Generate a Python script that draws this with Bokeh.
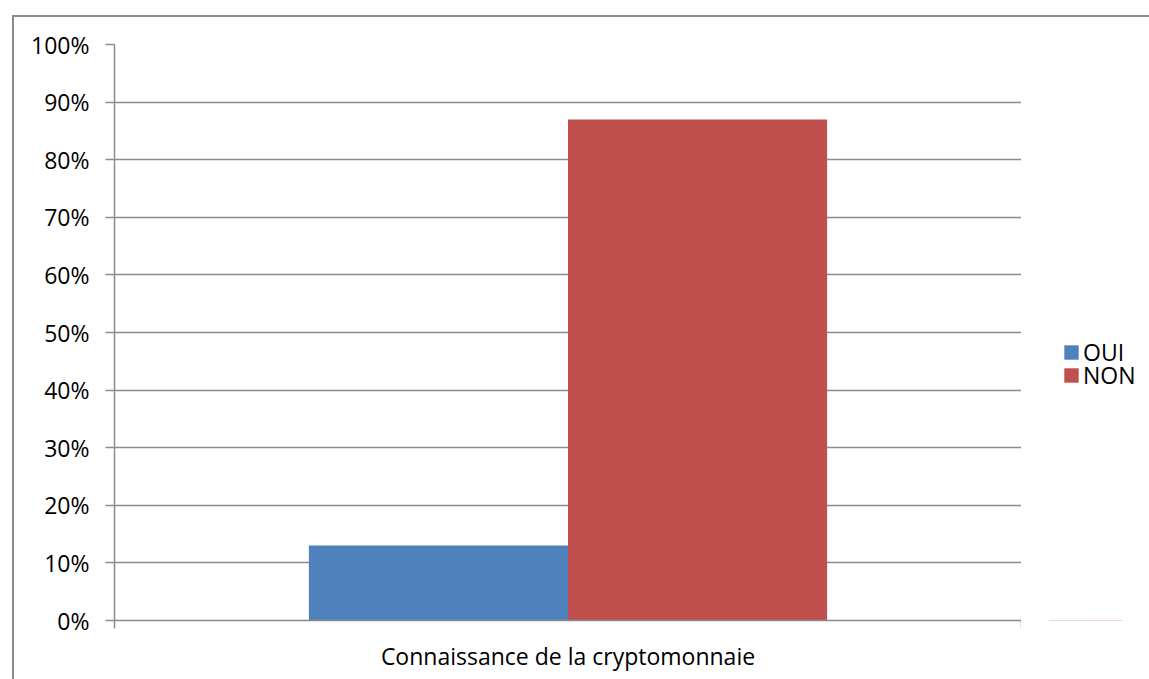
from bokeh.plotting import figure
from bokeh.layouts import row
from bokeh.models import (ColumnDataSource, FactorRange, Range1d, LinearAxis, CategoricalAxis,
                          FixedTicker, NumeralTickFormatter, Legend, LegendItem, InlineStyleSheet)
from bokeh.transform import dodge
from bokeh.embed import file_html
from bokeh.resources import INLINE

categories = ["Connaissance de la cryptomonnaie"]
oui = [0.13]
non = [0.87]
series_names = ["OUI", "NON"]
colors = ["#4F81BD", "#C0504D"]
y_ticks = [0.0, 0.1, 0.2, 0.3, 0.4, 0.5, 0.6, 0.7, 0.8, 0.9, 1.0]

FONT = "Open Sans"
FS = "23px"
GRID = "#8c8c8c"
BW = 0.2857

source = ColumnDataSource(data=dict(cat=categories, oui=oui, non=non))

# ---------------- main chart ----------------
p = figure(width=1021, height=679, output_backend="svg", toolbar_location=None, title=None,
           x_range=FactorRange(factors=categories, range_padding=0),
           y_range=Range1d(0, 1),
           x_axis_location=None, y_axis_location=None,
           min_border_left=114, min_border_right=0, min_border_top=44, min_border_bottom=59)
p.outline_line_color = None
p.background_fill_alpha = 0
p.border_fill_alpha = 0

p.vbar(x=dodge("cat", -BW / 2, range=p.x_range), top="oui", width=BW, source=source,
       fill_color=colors[0], line_color=None)
p.vbar(x=dodge("cat", BW / 2, range=p.x_range), top="non", width=BW, source=source,
       fill_color=colors[1], line_color=None)

yaxis = LinearAxis(ticker=FixedTicker(ticks=y_ticks), formatter=NumeralTickFormatter(format="0%"))
yaxis.axis_line_color = GRID
yaxis.axis_line_width = 1.5
yaxis.major_tick_line_color = GRID
yaxis.major_tick_line_width = 1.5
yaxis.major_tick_out = 9
yaxis.major_tick_in = 0
yaxis.minor_tick_line_color = None
yaxis.major_label_standoff = 16
yaxis.major_label_text_font = FONT
yaxis.major_label_text_font_size = FS
yaxis.major_label_text_color = "black"
p.add_layout(yaxis, "left")

# tick marks at the category boundaries (synthetic coordinates 0 and 1)
edge = LinearAxis(ticker=FixedTicker(ticks=[0, 1]))
edge.axis_line_color = GRID
edge.axis_line_width = 1.5
edge.major_tick_line_color = GRID
edge.major_tick_line_width = 1.5
edge.major_tick_out = 8
edge.major_tick_in = 0
edge.minor_tick_line_color = None
edge.major_label_overrides = {0: "", 1: ""}
edge.major_label_text_font_size = "0px"
edge.major_label_standoff = 0
p.add_layout(edge, "below")

xaxis = CategoricalAxis()
xaxis.axis_line_color = None
xaxis.major_tick_line_color = None
xaxis.minor_tick_line_color = None
xaxis.major_label_standoff = 5
xaxis.major_label_text_font = FONT
xaxis.major_label_text_font_size = FS
xaxis.major_label_text_color = "black"
p.add_layout(xaxis, "below")

p.ygrid.ticker = FixedTicker(ticks=y_ticks)
p.xgrid.grid_line_color = None
p.ygrid.grid_line_color = GRID
p.ygrid.grid_line_width = 1.5

# ---------------- legend panel ----------------
pl = figure(width=128, height=679, output_backend="svg", toolbar_location=None, title=None,
            x_range=FactorRange(factors=categories, range_padding=0),
            y_range=Range1d(5, 6),
            x_axis_location=None, y_axis_location=None, min_border=0)
pl.outline_line_color = None
pl.background_fill_alpha = 0
pl.border_fill_alpha = 0
pl.grid.grid_line_color = None

# zero-height, out-of-range proxies: only their legend swatches show
lr1 = pl.vbar(x=dodge("cat", -BW / 2, range=pl.x_range), top="oui", bottom="oui", width=BW,
              source=source, fill_color=colors[0], line_color=None)
lr2 = pl.vbar(x=dodge("cat", BW / 2, range=pl.x_range), top="non", bottom="non", width=BW,
              source=source, fill_color=colors[1], line_color=None)

for name, rend, vy in [(series_names[0], lr1, 252), (series_names[1], lr2, 229)]:
    lg = Legend(items=[LegendItem(label=name, renderers=[rend])], location=(41, vy))
    lg.margin = 0
    lg.padding = 0
    lg.spacing = 0
    lg.border_line_color = None
    lg.background_fill_alpha = 0
    lg.glyph_width = 18
    lg.glyph_height = 18
    lg.label_standoff = 3
    lg.label_text_font = FONT
    lg.label_text_font_size = FS
    lg.label_text_color = "black"
    pl.add_layout(lg, "center")

layout = row(p, pl, spacing=0)
layout.stylesheets = [InlineStyleSheet(css="""
:host { position: relative; }
:host::after {
  content: ''; position: absolute; left: 12px; top: 15px; width: 1300px; height: 900px;
  border-left: 2px solid #8a8a8a; border-top: 2px solid #8a8a8a;
  pointer-events: none; box-sizing: border-box; z-index: 5;
}
""")]

open("out.html", "w").write(file_html(layout, INLINE))
